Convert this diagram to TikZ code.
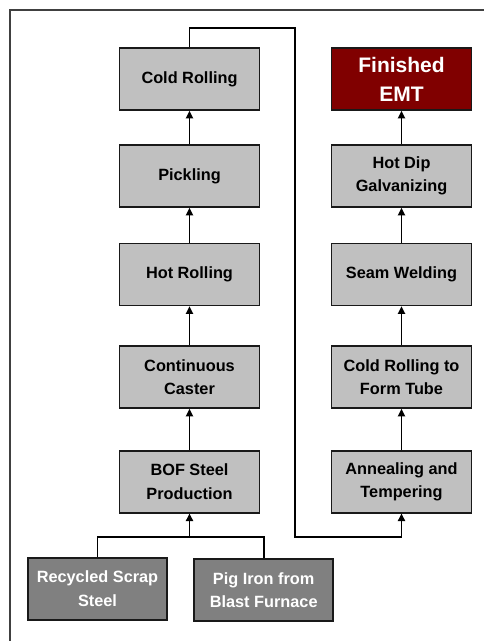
\documentclass[tikz,border=0pt]{standalone}
\usepackage{fontspec}
\setmainfont{Liberation Sans}
\usetikzlibrary{arrows.meta}
\definecolor{boxgray}{HTML}{C0C0C0}
\definecolor{darkbox}{HTML}{808080}
\definecolor{maroon}{HTML}{800000}
\definecolor{framegray}{HTML}{404040}
\tikzset{
  stepbox/.style={draw=black!90, line width=1.6pt, fill=boxgray, minimum width=140pt, minimum height=62pt,
    align=center, font=\fontsize{16.3}{23.5}\selectfont\bfseries, inner sep=0pt},
  srcbox/.style={stepbox, fill=darkbox, text=white},
  endbox/.style={stepbox, fill=maroon, text=white, font=\fontsize{21}{29}\selectfont\bfseries},
  conn/.style={draw=black, line width=1.8pt},
  arr/.style={conn, -{Triangle[length=7.5pt,width=7pt]}},
}
\begin{document}
\begin{tikzpicture}[x=1pt,y=-1pt]
\useasboundingbox (0,0) rectangle (484,641);
\draw[framegray, line width=1.6pt] (10,650) -- (10,10) -- (490,10);
% left column
\node[stepbox] (cold) at (189.5,79) {Cold Rolling};
\node[stepbox] (pick) at (189.5,176) {Pickling};
\node[stepbox] (hot) at (189.5,274.5) {Hot Rolling};
\node[stepbox] (cast) at (189.5,377) {Continuous\\Caster};
\node[stepbox] (bof) at (189.5,481.7) {BOF Steel\\Production};
% right column
\node[endbox] (emt) at (401.5,79) {Finished\\EMT};
\node[stepbox] (galv) at (401.5,176) {Hot Dip\\Galvanizing};
\node[stepbox] (seam) at (401.5,274.5) {Seam Welding};
\node[stepbox] (tube) at (401.5,377) {Cold Rolling to\\Form Tube};
\node[stepbox] (anneal) at (401.5,481.7) {Annealing and\\Tempering};
% sources
\node[srcbox, minimum width=139.5pt] (scrap) at (97.5,588.7) {Recycled Scrap\\Steel};
\node[srcbox, minimum width=139pt] (pig) at (263.7,590) {Pig Iron from\\Blast Furnace};
% coordinates
\coordinate (j) at (189.5,537);
% arrows left column
\draw[arr] (pick.north) -- (cold.south);
\draw[arr] (hot.north) -- (pick.south);
\draw[arr] (cast.north) -- (hot.south);
\draw[arr] (bof.north) -- (cast.south);
% right column
\draw[arr] (galv.north) -- (emt.south);
\draw[arr] (seam.north) -- (galv.south);
\draw[arr] (tube.north) -- (seam.south);
\draw[arr] (anneal.north) -- (tube.south);
% cross connector
\draw[arr] (cold.north) -- ++(0,-19) -| (295,537) -| (anneal.south);
% sources
\draw[conn] (scrap.north) |- (j);
\draw[conn] (pig.north) |- (j);
\draw[arr] (j) -- (bof.south);
\end{tikzpicture}
\end{document}
